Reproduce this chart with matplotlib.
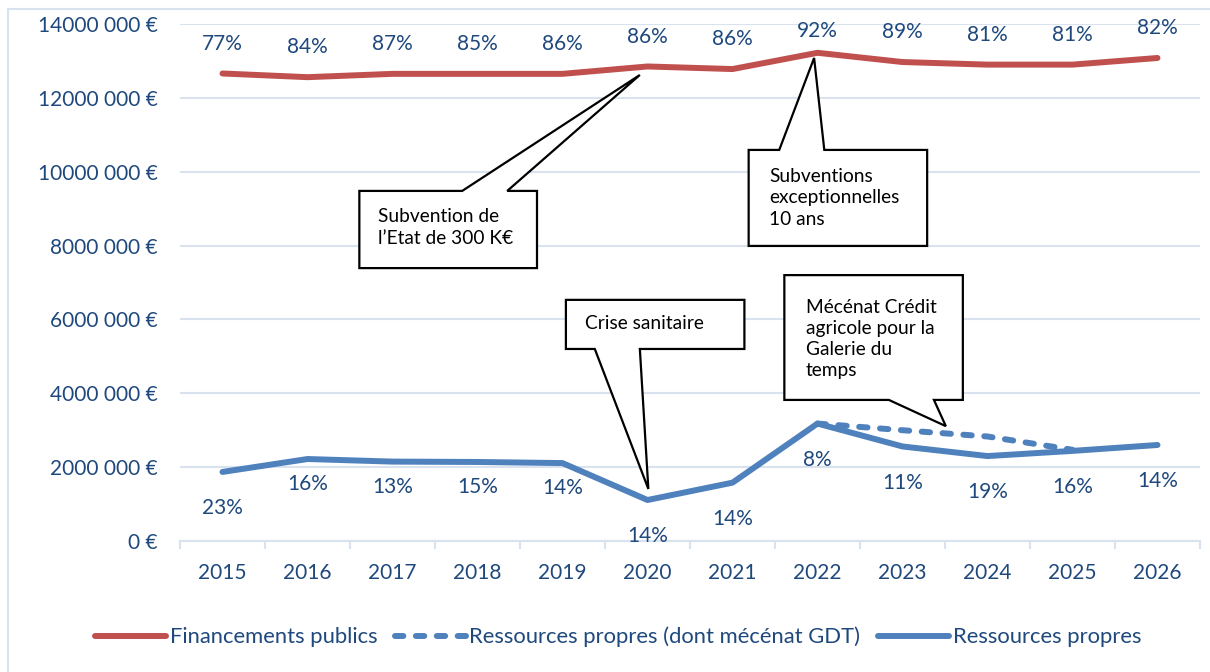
import numpy as np
import matplotlib.pyplot as plt
from matplotlib.patches import Polygon, Rectangle
from matplotlib.ticker import FuncFormatter, FixedLocator

plt.rcParams['font.family'] = ['Lato', 'DejaVu Sans']

# données (en millions d'euros)
annees = ['2015', '2016', '2017', '2018', '2019', '2020',
          '2021', '2022', '2023', '2024', '2025', '2026']
financements_publics = [12.66, 12.56, 12.65, 12.65, 12.65, 12.85,
                        12.78, 13.22, 12.97, 12.90, 12.90, 13.08]
ressources_propres = [1.87, 2.22, 2.15, 2.14, 2.11, 1.11,
                      1.58, 3.18, 2.56, 2.30, 2.44, 2.60]
mecenat_gdt = [np.nan] * 7 + [3.18, 3.00, 2.83, 2.47, np.nan]
parts_publiques = ['77%', '84%', '87%', '85%', '86%', '86%',
                   '86%', '92%', '89%', '81%', '81%', '82%']
parts_propres = ['23%', '16%', '13%', '15%', '14%', '14%',
                 '14%', '8%', '11%', '19%', '16%', '14%']

ROUGE = '#C0504D'
BLEU = '#4F81BD'
TEXTE = '#1F497D'
GRILLE = '#D9E3F0'
TAILLE = 15

fp = np.array(financements_publics) * 1e6
rp = np.array(ressources_propres) * 1e6
gdt = np.array(mecenat_gdt) * 1e6
x = np.arange(len(annees))

fig = plt.figure(figsize=(12.1, 6.72), dpi=100)
ax = fig.add_axes([180 / 1210, 1 - 541 / 672, 1020 / 1210, 517 / 672])

# cadre de la zone de graphique
fig.patches.append(Rectangle((8 / 1210, -0.1), 1.2, 1 - 9 / 672 + 0.1,
                             transform=fig.transFigure, fill=False,
                             edgecolor=GRILLE, linewidth=1.5))

ax.plot(x, fp, color=ROUGE, lw=4.3, solid_capstyle='round',
        solid_joinstyle='round', label='Financements publics', zorder=3)
ax.plot(x, gdt, color=BLEU, lw=4.3, dashes=(1.4, 2.1), dash_capstyle='round',
        label='Ressources propres (dont mécénat GDT)', zorder=3)
ax.plot(x, rp, color=BLEU, lw=4.3, solid_capstyle='round',
        solid_joinstyle='round', label='Ressources propres', zorder=3)

for i in range(len(annees)):
    dh = 16 if i == 7 else 21.5
    ax.annotate(parts_publiques[i], (x[i], fp[i]), xytext=(0, dh),
                textcoords='offset points', ha='center', va='center',
                color=TEXTE, fontsize=TAILLE)
    db = -18 if 1 <= i <= 4 else -26
    ax.annotate(parts_propres[i], (x[i], rp[i]), xytext=(0, db),
                textcoords='offset points', ha='center', va='center',
                color=TEXTE, fontsize=TAILLE)

ax.set_xlim(-0.5, 11.5)
ax.set_ylim(0, 14e6)
ax.set_yticks(np.arange(0, 14e6 + 1, 2e6))
ax.yaxis.set_major_formatter(FuncFormatter(
    lambda v, p: '0 €' if v == 0 else f'{int(v / 1000)} 000 €'))
ax.set_xticks(x)
ax.set_xticklabels(annees)
ax.xaxis.set_minor_locator(FixedLocator(np.arange(-0.5, 12, 1)))
ax.tick_params(axis='x', which='major', length=0, pad=16, labelsize=TAILLE,
               labelcolor=TEXTE)
ax.tick_params(axis='x', which='minor', length=6, width=1.5, color=GRILLE)
ax.tick_params(axis='y', length=0, pad=16, labelsize=TAILLE, labelcolor=TEXTE)
ax.grid(axis='y', color=GRILLE, lw=1.5)
ax.set_axisbelow(True)
for s in ['top', 'right', 'left']:
    ax.spines[s].set_visible(False)
ax.spines['bottom'].set_color(GRILLE)
ax.spines['bottom'].set_linewidth(1.5)


# bulles d'annotation
def bulle(x0, x1, y0, y1, xa, xb, pointe, bord, texte, tx, ty):
    if bord == 'haut':
        pts = [(x0, y1), (xa, y1), pointe, (xb, y1), (x1, y1), (x1, y0), (x0, y0)]
    else:
        pts = [(x0, y1), (x1, y1), (x1, y0), (xb, y0), pointe, (xa, y0), (x0, y0)]
    ax.add_patch(Polygon(pts, closed=True, facecolor='white', edgecolor='black',
                         lw=1.6, zorder=5, clip_on=False))
    ax.text(tx, ty, texte, ha='left', va='center', fontsize=13.8,
            linespacing=1.3, color='black', zorder=6)


bulle(1.61, 3.70, 7.39e6, 9.48e6, 2.82, 3.35, (4.91, 12.62e6), 'haut',
      'Subvention de\nl\u2019Etat de 300 K€', 1.83, 8.49e6)
bulle(6.19, 8.29, 7.99e6, 10.59e6, 6.55, 7.08, (6.96, 13.08e6), 'haut',
      'Subventions\nexceptionnelles\n10 ans', 6.43, 9.29e6)
bulle(4.04, 6.14, 5.20e6, 6.53e6, 4.38, 4.91, (5.01, 1.41e6), 'bas',
      'Crise sanitaire', 4.26, 5.88e6)
bulle(6.61, 8.71, 3.82e6, 7.20e6, 7.84, 8.37, (8.51, 3.11e6), 'bas',
      'Mécénat Crédit\nagricole pour la\nGalerie du\ntemps', 6.86, 5.47e6)

fig.legend(loc='center', bbox_to_anchor=(618 / 1210, 1 - 637 / 672), ncol=3,
           frameon=False, fontsize=15.8, handlelength=3.25, handletextpad=0.15,
           columnspacing=0.8, labelcolor=TEXTE)

fig.savefig('out.png', dpi=100)
